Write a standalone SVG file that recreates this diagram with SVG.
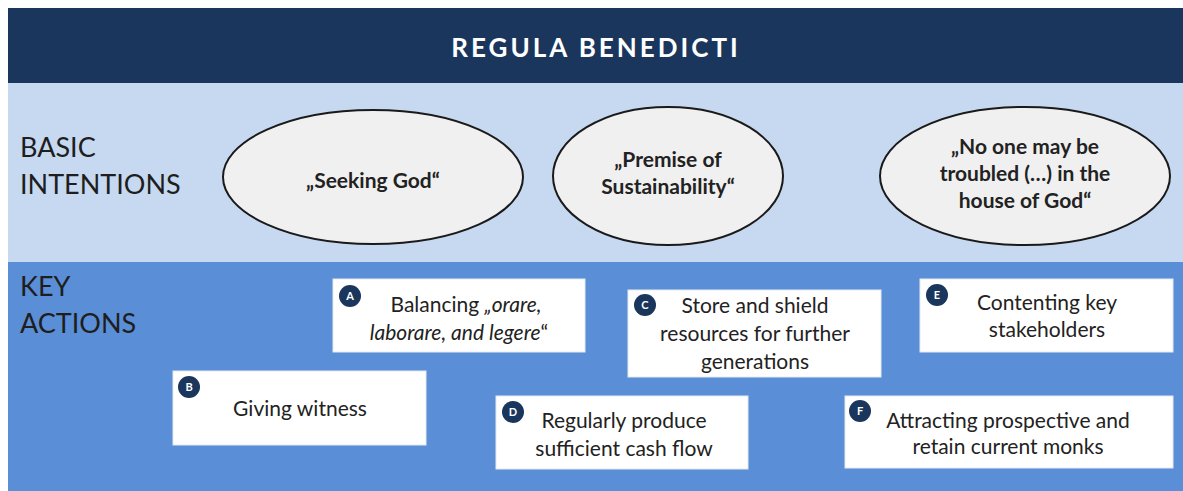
<svg xmlns="http://www.w3.org/2000/svg" width="1183" height="491" viewBox="0 0 1183 491">
<style>
.lbl{font-family:Lato,"Open Sans","Liberation Sans",sans-serif;font-size:27px;fill:#1e1e1e}
.ell{fill:#f0f0f0;stroke:#1a1a1a;stroke-width:2}
.et{font-family:Lato,"Open Sans","Liberation Sans",sans-serif;font-size:21px;font-weight:bold;fill:#222;text-anchor:middle}
.box{fill:#ffffff;stroke:#e4e9f2;stroke-width:1}
.bt{font-family:Lato,"Open Sans","Liberation Sans",sans-serif;font-size:21px;fill:#222;text-anchor:middle}
.badge{fill:#1b365d}
.bl{font-family:Lato,"Liberation Sans",sans-serif;font-size:11px;font-weight:bold;fill:#fff;text-anchor:middle}
</style>
<rect x="0" y="0" width="1183" height="491" fill="#ffffff"/>
<rect x="8" y="8" width="1175" height="75" fill="#1b365d"/>
<text x="596" y="57" font-family="Lato,'Open Sans','Liberation Sans',sans-serif" font-size="26" font-weight="bold" fill="#ffffff" text-anchor="middle" letter-spacing="3">REGULA BENEDICTI</text>
<rect x="8" y="83" width="1175" height="179" fill="#c6d9f1"/>
<rect x="8" y="262" width="1175" height="229" fill="#5a8ed6"/>
<text class="lbl" x="20" y="157">BASIC</text>
<text class="lbl" x="20" y="194">INTENTIONS</text>
<text class="lbl" x="20" y="296">KEY</text>
<text class="lbl" x="20" y="333">ACTIONS</text>
<g id="int1"><ellipse class="ell" cx="373" cy="177" rx="150" ry="67"/><text class="et" x="373" y="188">„Seeking God“</text></g>
<g id="int2"><ellipse class="ell" cx="668" cy="176" rx="115" ry="69"/><text class="et" x="668" y="167">„Premise of</text><text class="et" x="668" y="194">Sustainability“</text></g>
<g id="int3"><ellipse class="ell" cx="1025" cy="176" rx="145" ry="69"/><text class="et" x="1025" y="154">„No one may be</text><text class="et" x="1025" y="181">troubled (…) in the</text><text class="et" x="1025" y="208">house of God“</text></g>
<g id="connectors"></g>
<g id="A"><rect class="box" x="333" y="279" width="252" height="73"/><circle class="badge" cx="350" cy="296" r="11"/><text class="bl" x="350" y="300">A</text><text class="bt" x="466" y="312">Balancing <tspan font-style="italic">„orare,</tspan></text><text class="bt" x="459" y="340"><tspan font-style="italic">laborare, and legere</tspan>“</text></g>
<g id="B"><rect class="box" x="173" y="371" width="253" height="74"/><circle class="badge" cx="189" cy="387" r="11"/><text class="bl" x="189" y="391">B</text><text class="bt" x="300" y="416">Giving witness</text></g>
<g id="C"><rect class="box" x="628" y="290" width="253" height="87"/><circle class="badge" cx="645" cy="305" r="11"/><text class="bl" x="645" y="309">C</text><text class="bt" x="755" y="313">Store and shield</text><text class="bt" x="755" y="341">resources for further</text><text class="bt" x="755" y="369">generations</text></g>
<g id="D"><rect class="box" x="496" y="396" width="252" height="73"/><circle class="badge" cx="513" cy="412" r="11"/><text class="bl" x="513" y="416">D</text><text class="bt" x="624" y="428">Regularly produce</text><text class="bt" x="624" y="456">sufficient cash flow</text></g>
<g id="E"><rect class="box" x="920" y="279" width="253" height="73"/><circle class="badge" cx="937" cy="295" r="11"/><text class="bl" x="937" y="299">E</text><text class="bt" x="1047" y="310">Contenting key</text><text class="bt" x="1047" y="337">stakeholders</text></g>
<g id="F"><rect class="box" x="845" y="396" width="328" height="72"/><circle class="badge" cx="860" cy="411" r="11"/><text class="bl" x="860" y="415">F</text><text class="bt" x="1008" y="428">Attracting prospective and</text><text class="bt" x="1008" y="454">retain current monks</text></g>
</svg>
